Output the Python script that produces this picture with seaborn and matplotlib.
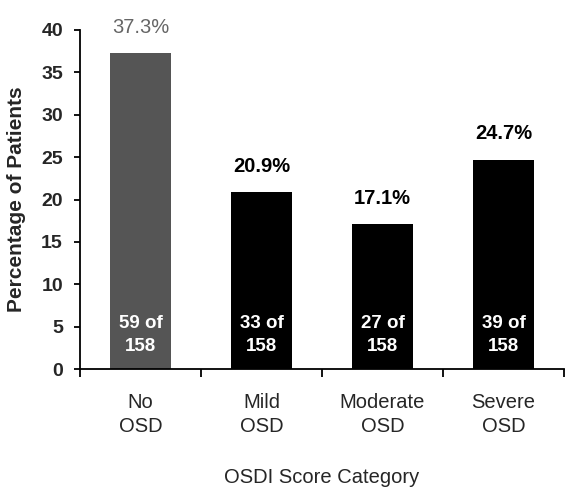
import matplotlib
matplotlib.use("Agg")
import matplotlib.pyplot as plt
import seaborn as sns
import pandas as pd
from matplotlib.ticker import FixedLocator

categories = ["No\nOSD", "Mild\nOSD", "Moderate\nOSD", "Severe\nOSD"]
percentages = [37.3, 20.9, 17.1, 24.7]
counts = [59, 33, 27, 39]
total = 158
bar_colors = ["#555555", "#000000", "#000000", "#000000"]
pct_colors = ["#666666", "#000000", "#000000", "#000000"]
pct_weights = ["normal", "bold", "bold", "bold"]
y_ticks = [0, 5, 10, 15, 20, 25, 30, 35, 40]

sns.set_theme(style="white")
plt.rcParams["font.family"] = ["Liberation Sans", "DejaVu Sans"]

df = pd.DataFrame({"category": categories, "percent": percentages})

fig = plt.figure(figsize=(5.65, 4.91), dpi=100)
ax = fig.add_axes([80 / 565, 1 - 369 / 491, (564 - 80) / 565, (369 - 30) / 491])

sns.barplot(data=df, x="category", y="percent", hue="category",
            palette=bar_colors, legend=False, width=0.5, ax=ax,
            saturation=1, edgecolor="none")

ax.set_xlim(-0.5, 3.5)
ax.set_ylim(0, 40)
ax.set_yticks(y_ticks)

for i, (p, n) in enumerate(zip(percentages, counts)):
    ax.annotate(f"{p}%", (i, p), xytext=(0, 18.5), textcoords="offset points",
                ha="center", va="center", fontsize=14.5,
                color=pct_colors[i], fontweight=pct_weights[i])
    ax.text(i, 4.0, f"{n} of\n{total}", ha="center", va="center",
            color="white", fontsize=13.5, fontweight="bold", linespacing=1.5)

for side in ["top", "right"]:
    ax.spines[side].set_visible(False)
for side in ["left", "bottom"]:
    ax.spines[side].set_color("black")
    ax.spines[side].set_linewidth(1.3)

ax.tick_params(axis="y", direction="out", length=4.3, width=1.3, color="black",
               left=True, pad=8, labelsize=14)
for lbl in ax.get_yticklabels():
    lbl.set_fontweight("bold")

ax.xaxis.set_minor_locator(FixedLocator([-0.5, 0.5, 1.5, 2.5, 3.5]))
ax.tick_params(axis="x", which="minor", direction="out", length=5.8, width=1.3,
               color="black", bottom=True)
ax.tick_params(axis="x", which="major", length=0, pad=17, labelsize=14.5)
for lbl in ax.get_xticklabels():
    lbl.set_linespacing(1.35)

ax.set_xlabel("OSDI Score Category", fontsize=14.5, labelpad=23)
ax.set_ylabel("Percentage of Patients", fontsize=15, fontweight="bold", labelpad=11)

fig.savefig("out.png", dpi=100, facecolor="white")
